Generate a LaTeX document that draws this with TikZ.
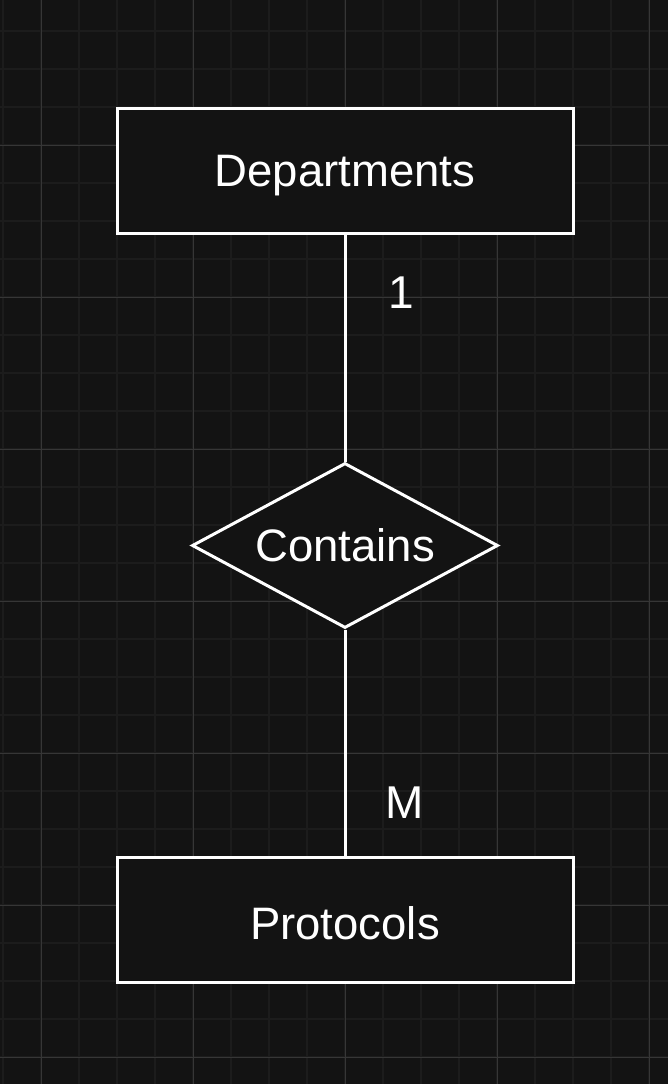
\documentclass[tikz,border=0pt]{standalone}
\usepackage{fontspec}
\setmainfont{Liberation Sans}
\usetikzlibrary{shapes.geometric}
\definecolor{bgc}{HTML}{131313}
\definecolor{minorc}{HTML}{1C1C1C}
\definecolor{majorc}{HTML}{363636}
\tikzset{
  minorline/.style={draw=minorc, line width=1.5pt},
  majorline/.style={draw=majorc, line width=1pt},
  entity/.style={rectangle, draw=white, line width=3pt, fill=bgc, text=white,
    minimum width=456pt, minimum height=125pt, inner sep=0pt,
    font=\fontsize{45.5}{54}\selectfont, text height=32.5pt, text depth=0pt},
  relation/.style={diamond, draw=white, line width=3pt, fill=bgc, text=white,
    aspect=1.855, minimum width=306pt, minimum height=165pt, inner sep=0pt,
    font=\fontsize{45.5}{54}\selectfont, text height=32.5pt, text depth=0pt},
  card/.style={text=white, inner sep=0pt, font=\fontsize{46}{54}\selectfont,
    text height=33pt, text depth=0pt},
  link/.style={draw=white, line width=3pt}
}
\begin{document}
\begin{tikzpicture}[x=1pt, y=-1pt]
  \fill[bgc] (0,0) rectangle (668,1084);
  \useasboundingbox (0,0) rectangle (668,1084);
  \foreach \x in {3,41,...,649} \draw[minorline] (\x,0) -- (\x,1084);
  \foreach \y in {31,69,...,1057} \draw[minorline] (0,\y) -- (668,\y);
  \foreach \x in {41,193,...,649} \draw[majorline] (\x,0) -- (\x,1084);
  \foreach \y in {145,297,...,1057} \draw[majorline] (0,\y) -- (668,\y);

  \node[entity] (dep) at (345,170.5) {Departments};
  \node[relation] (rel) at (345,545.5) {Contains};
  \node[entity, text height=39.5pt] (pro) at (345,919.5) {Protocols};

  \draw[link] (dep.south) -- (rel.north);
  \draw[link] (rel.south) -- (pro.north);

  \node[card] (one) at (401.5,291.5) {1};
  \node[card] (many) at (404.5,801.5) {M};
\end{tikzpicture}
\end{document}
